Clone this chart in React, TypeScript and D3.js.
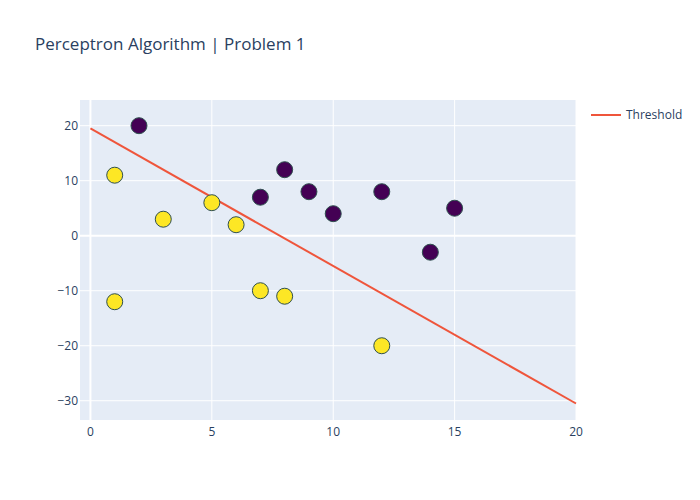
import React from "react";
import * as d3 from "d3";

const classAX = [2, 7, 8, 9, 10, 12, 14, 15];
const classAY = [20, 7, 12, 8, 4, 8, -3, 5];
const classBX = [1, 3, 5, 6, 7, 8, 1, 12];
const classBY = [11, 3, 6, 2, -10, -11, -12, -20];
const thresholdX = [0, 20];
const thresholdY = [19.5, -30.5];
const xTicks = [0, 5, 10, 15, 20];
const yTicks = [-30, -20, -10, 0, 10, 20];

const W = 700, H = 500;
const L = 80, R = 576, T = 100, B = 420;
const font = "'Open Sans', sans-serif";
const txt = "#2a3f5f";

export default function App() {
  const x = d3.scaleLinear().domain([-0.43, 20]).range([L, R]);
  const y = d3.scaleLinear().domain([-33.5, 24.67]).range([B, T]);
  const line = d3.line<number>().x((d, i) => x(thresholdX[i])).y((d) => y(d));
  const fmt = (v: number) => (v < 0 ? "\u2212" + Math.abs(v) : String(v));
  const pts = [
    ...classAX.map((v, i) => ({ x: v, y: classAY[i], c: "#440154" })),
    ...classBX.map((v, i) => ({ x: v, y: classBY[i], c: "#fde725" })),
  ];
  return (
    <svg width={W} height={H} style={{ position: "absolute", left: 0, top: 0 }}>
      <rect x={0} y={0} width={W} height={H} fill="#fff" />
      <rect x={L} y={T} width={R - L} height={B - T} fill="#E5ECF6" />
      {xTicks.map((t) => (
        <line key={"gx" + t} x1={x(t)} x2={x(t)} y1={T} y2={B} stroke="#fff" strokeWidth={t === 0 ? 2 : 1} />
      ))}
      {yTicks.map((t) => (
        <line key={"gy" + t} x1={L} x2={R} y1={y(t)} y2={y(t)} stroke="#fff" strokeWidth={t === 0 ? 2 : 1} />
      ))}
      <path d={line(thresholdY) || ""} fill="none" stroke="#EF553B" strokeWidth={2} />
      {pts.map((p, i) => (
        <circle key={i} cx={x(p.x)} cy={y(p.y)} r={8} fill={p.c} stroke="#2F4F4F" strokeWidth={1} />
      ))}
      {xTicks.map((t) => (
        <text key={"tx" + t} x={x(t)} y={B + 16} textAnchor="middle" fontFamily={font} fontSize={12} fill={txt}>
          {fmt(t)}
        </text>
      ))}
      {yTicks.map((t) => (
        <text key={"ty" + t} x={L - 2} y={y(t) + 4} textAnchor="end" fontFamily={font} fontSize={12} fill={txt}>
          {fmt(t)}
        </text>
      ))}
      <text x={35} y={50} fontFamily={font} fontSize={17} fill={txt}>
        Perceptron Algorithm | Problem 1
      </text>
      <line x1={591} x2={621} y1={115} y2={115} stroke="#EF553B" strokeWidth={2} />
      <text x={626} y={119} fontFamily={font} fontSize={12} fill={txt}>
        Threshold
      </text>
    </svg>
  );
}
